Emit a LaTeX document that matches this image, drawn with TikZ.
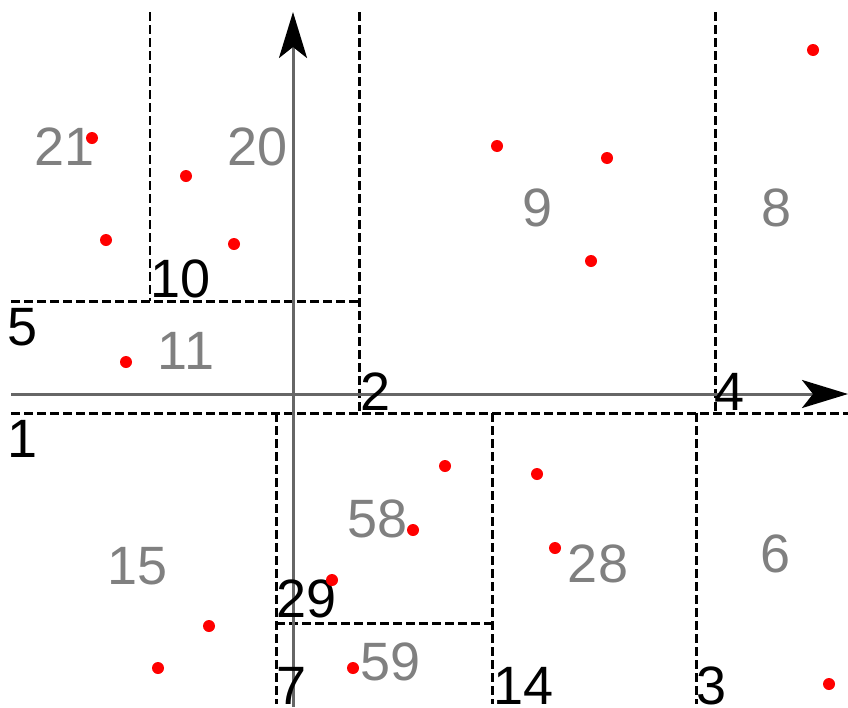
\documentclass[tikz,border=0pt]{standalone}
\usepackage{fontspec}
\setmainfont{Liberation Sans}
\usetikzlibrary{arrows.meta}
\definecolor{axisgray}{HTML}{666666}
\definecolor{labgray}{HTML}{808080}
\tikzset{
  axis/.style={draw=axisgray, line width=3pt, -{Stealth[length=46pt,width=28pt,inset=11pt,color=black]}},
  cut/.style={draw=black, line width=3pt, dash pattern=on 9pt off 4pt},
  cutthin/.style={draw=black, line width=2.4pt, dash pattern=on 9pt off 4pt},
  idx/.style={anchor=base west, inner sep=0pt, text=black, font=\fontsize{54}{60}\selectfont},
  reg/.style={anchor=base, inner sep=0pt, text=labgray, font=\fontsize{54}{60}\selectfont},
  pt/.style={fill=red, draw=none, circle, minimum size=12pt, inner sep=0pt}
}
\begin{document}
\begin{tikzpicture}[x=1pt,y=-1pt]
\useasboundingbox (0,0) rectangle (848,707);
% coordinates
\coordinate (hl) at (11,394); \coordinate (hr) at (848,394);
\coordinate (vb) at (293,707); \coordinate (vt) at (293,12);
% dashed cuts
\draw[cut] (11,413) -- (848,413);
\draw[cut] (359,12) -- (359,413);
\draw[cut] (11,301) -- (359,301);
\draw[cutthin] (150,12) -- (150,301);
\draw[cut] (715,12) -- (715,413);
\draw[cut] (276,413) -- (276,704);
\draw[cut] (492,413) -- (492,704);
\draw[cut] (696,413) -- (696,704);
\draw[cut] (276,623) -- (492,623);
% axes
\draw[axis] (hl) -- (hr);
\draw[axis] (vb) -- (vt);
% black index labels
\node[idx] (n10) at (150,297) {10};
\node[idx] (n5) at (7,345) {5};
\node[idx] (n2) at (360,410) {2};
\node[idx] (n4) at (714,410) {4};
\node[idx] (n1) at (7,457) {1};
\node[idx] (n29) at (276,617) {29};
\node[idx] (n7) at (276,704) {7};
\node[idx] (n14) at (493,704) {14};
\node[idx] (n3) at (696,704) {3};
% gray region labels
\node[reg] (r21) at (65,165) {21};
\node[reg] (r20) at (258,165) {20};
\node[reg] (r9) at (538,226) {9};
\node[reg] (r8) at (777,226) {8};
\node[reg] (r11) at (186,369) {11};
\node[reg] (r58) at (378,537) {58};
\node[reg] (r15) at (138,584) {15};
\node[reg] (r28) at (598,582) {28};
\node[reg] (r6) at (776,572) {6};
\node[reg] (r59) at (391,680) {59};
% points
\node[pt] (p1) at (92,138) {};
\node[pt] (p2) at (186,176) {};
\node[pt] (p3) at (106,240) {};
\node[pt] (p4) at (234,244) {};
\node[pt] (p5) at (126,362) {};
\node[pt] (p6) at (497,146) {};
\node[pt] (p7) at (607,158) {};
\node[pt] (p8) at (591,261) {};
\node[pt] (p9) at (813,50) {};
\node[pt] (p10) at (445,466) {};
\node[pt] (p11) at (537,474) {};
\node[pt] (p12) at (413,530) {};
\node[pt] (p13) at (555,548) {};
\node[pt] (p14) at (332,580) {};
\node[pt] (p15) at (209,626) {};
\node[pt] (p16) at (158,668) {};
\node[pt] (p17) at (353,668) {};
\node[pt] (p18) at (829,684) {};
\end{tikzpicture}
\end{document}
